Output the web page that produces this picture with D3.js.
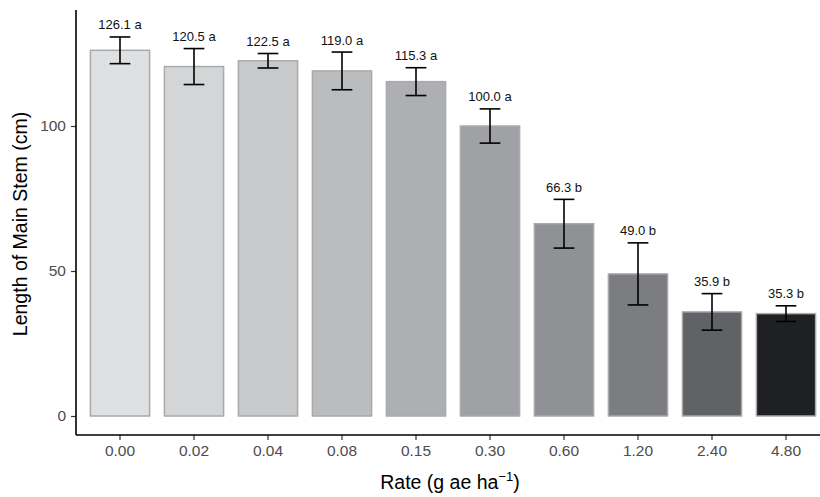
<!DOCTYPE html>
<html><head><meta charset="utf-8">
<script src="https://cdn.jsdelivr.net/npm/d3@7"></script>
<style>body{margin:0;background:#fff}svg{display:block}</style>
</head><body>
<script>
const categories = ["0.00","0.02","0.04","0.08","0.15","0.30","0.60","1.20","2.40","4.80"];
const means = [126.1,120.5,122.5,119.0,115.3,100.0,66.3,49.0,35.9,35.3];
const errors = [4.6,6.2,2.5,6.5,4.8,5.9,8.4,10.7,6.3,2.7];
const letters = ["a","a","a","a","a","a","b","b","b","b"];
const fills = ["#dfe0e2","#d4d5d7","#c8c9cb","#bbbcbe","#aeafb2","#a0a1a4","#8f9194","#7c7d80","#606265","#1f2024"];
const yTicks = [0,50,100];

const W=820,H=497;
const svg=d3.select("body").append("svg").attr("width",W).attr("height",H);
const x=d3.scaleBand().domain(categories).range([75.6,830.4]).paddingInner(0.2).paddingOuter(0.2);
const y=d3.scaleLinear().domain([0,140]).range([416,10]);
const font="Liberation Sans, Arial, sans-serif";

const g=svg.append("g");
g.selectAll("rect.bar").data(categories).join("rect")
 .attr("x",d=>x(d)).attr("width",x.bandwidth())
 .attr("y",(d,i)=>y(means[i])).attr("height",(d,i)=>y(0)-y(means[i]))
 .attr("fill",(d,i)=>fills[i]).attr("stroke","#a9aaac").attr("stroke-width",1.5);

const cw=x.bandwidth()*0.35/2;
categories.forEach((c,i)=>{
  const cx=x(c)+x.bandwidth()/2;
  const t=y(means[i]+errors[i]), b=y(means[i]-errors[i]);
  g.append("line").attr("x1",cx).attr("x2",cx).attr("y1",t).attr("y2",b).attr("stroke","#000").attr("stroke-width",1.6);
  g.append("line").attr("x1",cx-cw).attr("x2",cx+cw).attr("y1",t).attr("y2",t).attr("stroke","#000").attr("stroke-width",1.6);
  g.append("line").attr("x1",cx-cw).attr("x2",cx+cw).attr("y1",b).attr("y2",b).attr("stroke","#000").attr("stroke-width",1.6);
  g.append("text").attr("x",cx).attr("y",t-7.5).attr("text-anchor","middle")
   .attr("font-family",font).attr("font-size",13).attr("fill","#111")
   .text(means[i].toFixed(1)+" "+letters[i]);
});

// axes
const ya=svg.append("g").attr("transform","translate(76,0)")
 .call(d3.axisLeft(y).tickValues(yTicks).tickSize(5).tickPadding(5));
ya.select(".domain").remove();
ya.append("line").attr("x1",0).attr("x2",0).attr("y1",10).attr("y2",435).attr("stroke","#000").attr("stroke-width",1.6);
ya.selectAll(".tick line").attr("stroke","#333").attr("stroke-width",1.2);
ya.selectAll(".tick text").attr("font-family",font).attr("font-size",15.5).attr("fill","#4d4d4d");

const xa=svg.append("g").attr("transform","translate(0,435)")
 .call(d3.axisBottom(x).tickSize(5).tickPadding(5));
xa.select(".domain").remove();
xa.append("line").attr("x1",76).attr("x2",W).attr("y1",0).attr("y2",0).attr("stroke","#000").attr("stroke-width",1.6);
xa.selectAll(".tick line").attr("stroke","#333").attr("stroke-width",1.2);
xa.selectAll(".tick text").attr("font-family",font).attr("font-size",15.5).attr("fill","#4d4d4d");

const xt=svg.append("text").attr("x",450).attr("y",489).attr("text-anchor","middle")
 .attr("font-family",font).attr("font-size",19.5).attr("fill","#000");
xt.append("tspan").text("Rate (g ae ha");
xt.append("tspan").attr("dy",-8).attr("font-size",13).text("\u22121");
xt.append("tspan").attr("dy",8).text(")");

svg.append("text").attr("transform","translate(27,224) rotate(-90)").attr("text-anchor","middle")
 .attr("font-family",font).attr("font-size",19.5).attr("fill","#000").text("Length of Main Stem (cm)");
</script>
</body></html>
